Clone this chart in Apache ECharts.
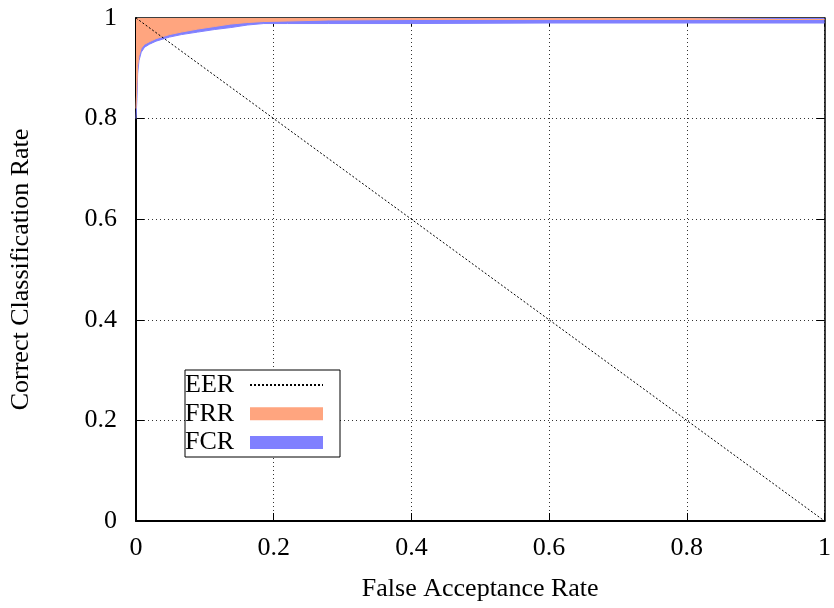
<!DOCTYPE html>
<html><head><meta charset="utf-8">
<script src="https://cdn.jsdelivr.net/npm/echarts@6/dist/echarts.min.js"></script>
<style>html,body{margin:0;padding:0;background:#fff}#c{width:834px;height:608px}</style>
</head><body><div id="c"></div>
<script>
// False acceptance rate samples (x)
const farValues = [0, 0.0014, 0.0024, 0.0043, 0.0076, 0.0125, 0.0197, 0.0292, 0.0388, 0.0485, 0.0658, 0.0896, 0.1137, 0.1377, 0.1616, 0.1856, 0.22, 0.28, 0.4, 0.6, 0.8, 1.0];
// lower edge of FCR band (correct classification rate curve)
const fcrEdge = [0.800, 0.840, 0.889, 0.915, 0.932, 0.942, 0.948, 0.954, 0.958, 0.962, 0.967, 0.972, 0.977, 0.981, 0.986, 0.989, 0.989, 0.989, 0.989, 0.990, 0.990, 0.990];
// lower edge of FRR region (upper edge of FCR band)
const frrEdge = [0.820, 0.870, 0.905, 0.925, 0.940, 0.948, 0.953, 0.959, 0.963, 0.967, 0.972, 0.978, 0.983, 0.988, 0.991, 0.993, 0.994, 0.996, 0.997, 0.997, 0.997, 0.997];
// equal error rate line
const eerX = [0, 1];
const eerY = [1, 0];
const seriesNames = ['EER', 'FRR', 'FCR'];
const xTitle = 'False Acceptance Rate';
const yTitle = 'Correct Classification Rate';

const FONT = 'Liberation Serif';
const FS = 26;
const pairs = (xs, ys) => xs.map((x, i) => [x, ys[i]]);

const chart = echarts.init(document.getElementById('c'), null, {renderer: 'canvas'});
const axisCommon = {
  type: 'value', min: 0, max: 1, interval: 0.2,
  axisLine: {show: true, onZero: false, lineStyle: {color: '#000', width: 2}},
  axisTick: {show: true, inside: true, length: 8, lineStyle: {color: '#000', width: 1}},
  splitLine: {show: false}
};
chart.setOption({
  animation: false,
  backgroundColor: '#fff',
  grid: {left: 131, right: 8, top: 18, bottom: 87, containLabel: false},
  legend: {
    orient: 'vertical', left: 185, top: 370, align: 'right',
    padding: [2, 16, 1.6, 0], itemGap: 2.7,
    itemWidth: 73, itemHeight: 13,
    borderColor: '#000', borderWidth: 1, backgroundColor: '#fff',
    data: [
      {name: 'EER', itemStyle: {opacity: 0}},
      {name: 'FRR', icon: 'rect'},
      {name: 'FCR', icon: 'rect'}
    ],
    formatter: n => '{a|' + n + '}',
    textStyle: {
      fontFamily: FONT, fontSize: FS, color: '#000', lineHeight: 24,
      rich: {a: {width: 60, align: 'left', fontFamily: FONT, fontSize: FS, color: '#000', lineHeight: 24}}
    }
  },
  xAxis: [
    Object.assign({}, axisCommon, {
      position: 'bottom',
      name: xTitle, nameLocation: 'middle', nameGap: 55,
      nameTextStyle: {fontFamily: FONT, fontSize: FS, color: '#000'},
      axisLabel: {margin: 14, fontFamily: FONT, fontSize: FS, color: '#000'},
      splitLine: {show: true, lineStyle: {color: '#333', width: 1, type: [1, 3]}}
    }),
    Object.assign({}, axisCommon, {position: 'top', axisLabel: {show: false}, axisLine: {show: true, onZero: false, lineStyle: {color: '#000', width: 1.5}}})
  ],
  yAxis: [
    Object.assign({}, axisCommon, {
      position: 'left',
      name: yTitle, nameLocation: 'middle', nameGap: 102, nameRotate: 90,
      nameTextStyle: {fontFamily: FONT, fontSize: FS, color: '#000'},
      axisLabel: {margin: 19, fontFamily: FONT, fontSize: FS, color: '#000'},
      splitLine: {show: true, lineStyle: {color: '#333', width: 1, type: [1, 3]}}
    }),
    Object.assign({}, axisCommon, {position: 'right', axisLabel: {show: false}, axisLine: {show: true, onZero: false, lineStyle: {color: '#000', width: 1.5}}})
  ],
  series: [
    {
      name: seriesNames[2], type: 'line', data: pairs(farValues, fcrEdge),
      symbol: 'none', smooth: false, z: 2,
      color: '#8080ff',
      lineStyle: {color: '#8080ff', width: 1},
      itemStyle: {color: '#8080ff'},
      areaStyle: {origin: 'end', color: '#8080ff', opacity: 1}
    },
    {
      name: seriesNames[1], type: 'line', data: pairs(farValues, frrEdge),
      symbol: 'none', smooth: false, z: 3,
      color: '#ffa57f',
      lineStyle: {color: '#ffa57f', width: 1},
      itemStyle: {color: '#ffa57f'},
      areaStyle: {origin: 'end', color: '#ffa57f', opacity: 1}
    },
    {
      name: seriesNames[0], type: 'line', data: pairs(eerX, eerY),
      symbol: 'none', z: 4,
      color: '#000',
      lineStyle: {color: '#000', width: 1, type: [2, 2]},
      itemStyle: {color: '#000'}
    }
  ]
});
</script>
</body></html>
